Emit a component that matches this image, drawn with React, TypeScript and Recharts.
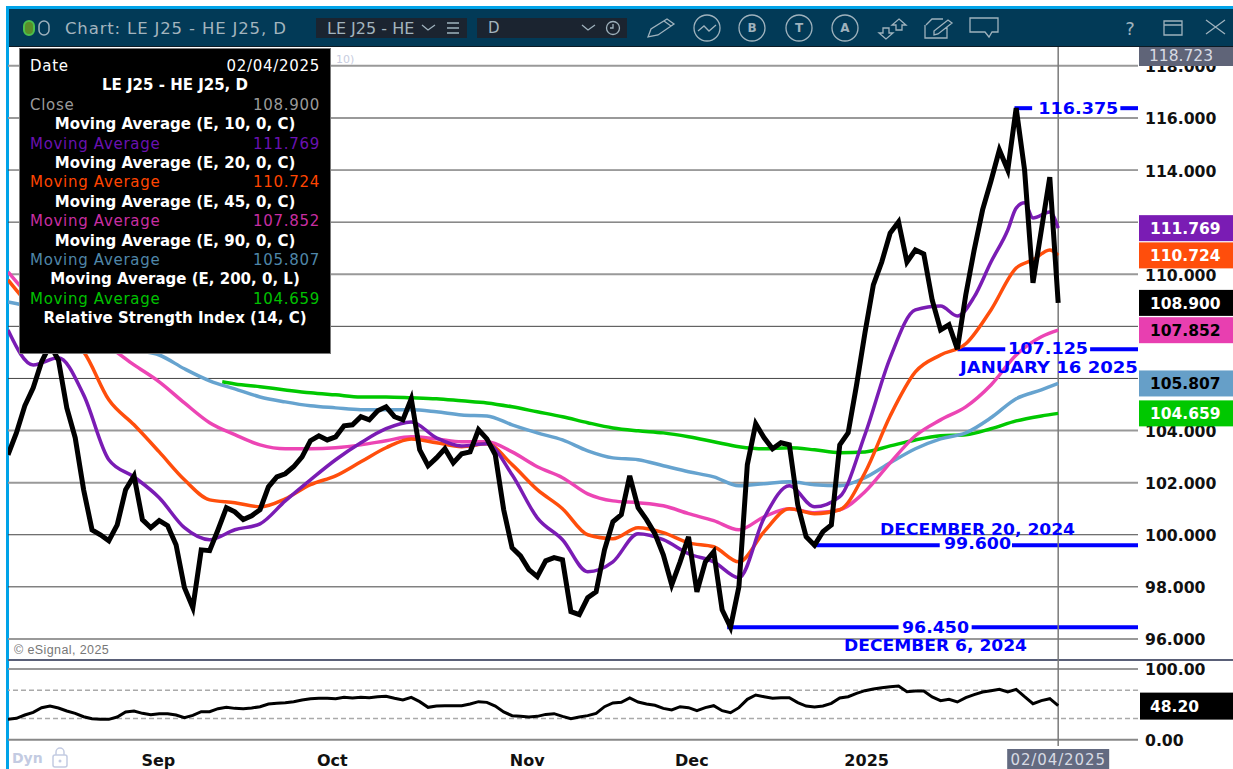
import React from "react";
import { ComposedChart, Line, XAxis, YAxis, ReferenceLine, ReferenceDot } from "recharts";

// spread close, one value per session
const closeValues = [
  103.07, 103.91, 104.95, 105.64, 106.64, 107.29, 106.71, 104.87, 103.72, 101.73,
  100.19, 100.0, 99.77, 100.38, 101.73, 102.26, 100.58, 100.27, 100.54, 100.35,
  99.62, 97.97, 97.2, 99.42, 99.39, 100.19, 101.04, 100.88, 100.58, 100.73,
  100.96, 101.84, 102.22, 102.34, 102.61, 102.99, 103.61, 103.8, 103.64, 103.76,
  104.18, 104.22, 104.53, 104.41, 104.76, 104.91, 104.53, 104.41, 105.22, 103.26,
  102.65, 102.95, 103.3, 102.76, 103.11, 103.18, 104.03, 103.68, 103.07, 100.96,
  99.5, 99.19, 98.66, 98.39, 99.0, 99.12, 99.04, 97.05, 96.93, 97.58,
  97.81, 99.42, 100.5, 100.77, 102.26, 101.04, 100.58, 100.04, 99.23, 98.08,
  98.96, 99.92, 97.81, 98.96, 99.35, 97.12, 96.45, 98.01, 102.69, 104.26,
  103.72, 103.3, 103.53, 103.45, 101.15, 99.92, 99.6, 100.12, 100.38, 103.45,
  103.91, 105.75, 107.75, 109.59, 110.47, 111.58, 112.01, 110.47, 110.93, 110.78,
  109.01, 107.86, 108.06, 107.125, 109.21, 110.93, 112.47, 113.58, 114.77, 114.0,
  116.375, 114.0, 109.67, 111.7, 113.73, 108.9,
];

const rsiValues = [
  28.8, 30.2, 34.9, 38.7, 45.3, 47.6, 44.8, 40.6, 37.3, 32.5,
  29.7, 28.8, 28.8, 32.1, 39.2, 40.6, 37.3, 35.4, 36.8, 36.8,
  34.9, 31.1, 34.4, 39.6, 39.6, 43.9, 45.8, 44.3, 43.9, 44.8,
  46.7, 50.5, 51.4, 52.4, 53.8, 56.1, 58.0, 58.5, 58.5, 58.0,
  59.9, 59.0, 59.9, 59.4, 60.8, 61.3, 58.5, 56.1, 59.9, 53.8,
  45.8, 47.6, 48.1, 48.1, 48.1, 50.5, 53.8, 52.8, 47.6, 39.2,
  34.0, 33.0, 32.1, 33.0, 35.8, 36.8, 33.0, 29.7, 32.1, 34.0,
  37.3, 46.7, 51.9, 52.8, 59.0, 53.3, 50.5, 48.6, 44.3, 42.0,
  46.7, 45.3, 41.0, 45.3, 48.1, 41.0, 38.2, 45.3, 57.1, 63.2,
  60.8, 58.5, 59.4, 59.4, 52.4, 47.6, 46.2, 47.6, 51.4, 59.0,
  60.8, 65.6, 69.3, 71.7, 73.6, 75.0, 75.9, 67.9, 68.9, 68.9,
  60.4, 55.2, 57.1, 53.3, 59.4, 63.7, 67.5, 69.3, 71.2, 67.5,
  71.2, 60.8, 50.9, 55.2, 58.0, 48.2,
];

// moving averages are read every third session
const maSessions = [
  0, 3, 6, 9, 12, 15, 18, 21, 24, 27, 30, 33, 36, 39, 42, 45, 48, 51, 54, 57, 60,
  63, 66, 69, 72, 75, 78, 81, 84, 87, 90, 93, 96, 99, 102, 105, 108, 111, 114, 117,
  120, 123, 125,
];
// the fast ones turn a lot at the end, so they get more readings there
const ema10Sessions = [
  0, 3, 6, 9, 12, 15, 18, 21, 24, 27, 30, 33, 36, 39, 42, 45, 48, 51, 54, 57, 60,
  63, 66, 69, 72, 75, 78, 81, 84, 87, 90, 93, 96, 99, 102, 105, 108, 111, 113, 115,
  117, 119, 120, 121, 122, 124, 125,
];
const ema10 = [
  107.86, 106.52, 106.79, 105.37, 102.88, 102.22, 101.42, 100.27, 99.81, 100.19,
  100.42, 101.3, 102.11, 102.88, 103.53, 104.07, 104.33, 103.72, 103.41, 103.49,
  102.3, 100.65, 99.81, 98.58, 98.96, 100.04, 99.81, 99.27, 98.96, 98.35,
  100.65, 101.88, 101.07, 101.46, 103.84, 106.79, 108.63, 108.78, 108.4, 109.13,
  110.47, 111.7, 112.54, 112.74, 112.16, 112.39, 111.769,
];
const ema20Sessions = [
  0, 3, 6, 9, 12, 15, 18, 21, 24, 27, 30, 33, 36, 39, 42, 45, 48, 51, 54, 57, 60,
  63, 66, 69, 72, 75, 78, 81, 84, 87, 90, 93, 96, 99, 102, 105, 108, 111, 114, 117,
  120, 122, 124, 125,
];
const ema20 = [
  109.78, 108.63, 107.67, 107.02, 105.18, 104.22, 103.18, 102.11, 101.34, 101.23,
  101.07, 101.38, 101.92, 102.26, 102.8, 103.34, 103.68, 103.53, 103.38, 103.49,
  102.69, 101.73, 101.0, 100.0, 99.85, 100.27, 100.08, 99.69, 99.54, 98.96,
  100.12, 101.0, 100.81, 100.96, 102.38, 104.56, 106.25, 106.9, 107.33, 108.63,
  110.24, 110.55, 110.93, 110.724,
];
const ema45 = [
  110.09, 109.01, 108.25, 107.67, 107.21, 106.52, 105.87, 105.06, 104.3, 103.84,
  103.45, 103.3, 103.3, 103.34, 103.45, 103.61, 103.76, 103.68, 103.57, 103.57,
  103.18, 102.61, 102.19, 101.57, 101.3, 101.23, 101.11, 100.81, 100.54, 100.19,
  100.69, 101.0, 100.84, 100.96, 101.65, 102.76, 103.8, 104.41, 104.91, 105.75,
  106.9, 107.6, 107.852,
];
const ema90 = [
  108.94, 108.71, 108.25, 107.79, 107.44, 107.1, 106.9, 106.37, 105.91, 105.6,
  105.29, 105.1, 104.95, 104.87, 104.8, 104.8, 104.8, 104.72, 104.6, 104.56,
  104.22, 103.91, 103.64, 103.22, 102.95, 102.88, 102.65, 102.42, 102.22, 101.88,
  101.96, 102.03, 101.92, 101.88, 102.19, 102.76, 103.3, 103.68, 103.91, 104.49,
  105.22, 105.56, 105.807,
];
// the 200 line only starts in late August
const ema200Sessions = [
  25.5, 27, 30, 33, 36, 39, 42, 45, 48, 51, 54, 57, 60, 63, 66, 69, 72, 75, 78, 81,
  84, 87, 90, 93, 96, 99, 102, 105, 108, 111, 114, 117, 120, 123, 125,
];
const ema200 = [
  105.87, 105.79, 105.68, 105.56, 105.45, 105.37, 105.29, 105.29, 105.26, 105.22,
  105.14, 105.06, 104.91, 104.72, 104.53, 104.3, 104.1, 103.99, 103.91, 103.76,
  103.57, 103.38, 103.3, 103.34, 103.26, 103.15, 103.18, 103.41, 103.64, 103.8,
  103.84, 104.07, 104.37, 104.56, 104.659,
];

const gridLevels = [96, 98, 100, 102, 104, 106, 108, 110, 112, 114, 116, 118];
const lightGrid = [96, 102, 104, 110, 116, 118];
// 106, 108 and 112 sit fully behind the value tags
const priceLabels = [96, 98, 100, 102, 104, 110, 114, 116, 118];
const tagValues = [111.769, 110.724, 108.9, 107.852, 105.807, 104.659];
const tagColors = ["#7a1cb4", "#ff4e0c", "#000000", "#e83fb0", "#669fc8", "#00c800"];
const tagText = ["#ffffff", "#ffffff", "#ffffff", "#000000", "#000000", "#ffffff"];

const monthSessions = [17.9, 38.6, 61.8, 81.4, 102.2, 125];
const monthLabels = ["Sep", "Oct", "Nov", "Dec", "2025", "02/04/2025"];

const closeData = closeValues.map((close, session) => ({ session, close }));
const rsiData = rsiValues.map((rsi, session) => ({ session, rsi }));
const series = (sessions: number[], values: number[]) =>
  sessions.map((session, i) => ({ session, value: values[i] }));

// left and right piece of every blue level, the label sits in the gap
const levelLines = [
  { y: 116.375, from: 119.8, to: 121.9 },
  { y: 116.375, from: 132.4, to: 134.5 },
  { y: 107.125, from: 113, to: 118.7 },
  { y: 107.125, from: 128.8, to: 134.5 },
  { y: 99.6, from: 95.8, to: 110.9 },
  { y: 99.6, from: 119.5, to: 134.5 },
  { y: 96.45, from: 85.6, to: 106 },
  { y: 96.45, from: 114.7, to: 134.5 },
];
const levelLabels = [
  { text: "116.375", x: 127.4, y: 116.4, len: 80 },
  { text: "107.125", x: 123.8, y: 107.15, len: 80 },
  { text: "JANUARY 16 2025", x: 123.9, y: 106.43, len: 178 },
  { text: "99.600", x: 115.4, y: 99.68, len: 67 },
  { text: "DECEMBER 20, 2024", x: 115.4, y: 100.23, len: 195 },
  { text: "96.450", x: 110.4, y: 96.44, len: 67 },
  { text: "DECEMBER 6, 2024", x: 110.4, y: 95.76, len: 183 },
];

const tooltipRows = [
  { left: "Date", right: "02/04/2025", color: "#ffffff" },
  { title: "LE J25 - HE J25, D" },
  { left: "Close", right: "108.900", color: "#9a9a9a" },
  { title: "Moving Average (E, 10, 0, C)" },
  { left: "Moving Average", right: "111.769", color: "#6a12b0" },
  { title: "Moving Average (E, 20, 0, C)" },
  { left: "Moving Average", right: "110.724", color: "#ff4500" },
  { title: "Moving Average (E, 45, 0, C)" },
  { left: "Moving Average", right: "107.852", color: "#c82ea2" },
  { title: "Moving Average (E, 90, 0, C)" },
  { left: "Moving Average", right: "105.807", color: "#4f86a8" },
  { title: "Moving Average (E, 200, 0, L)" },
  { left: "Moving Average", right: "104.659", color: "#00c000" },
  { title: "Relative Strength Index (14, C)" },
];

const FONT = "'DejaVu Sans', Verdana, sans-serif";
const ICON = "#9fb2bd";

function PriceTick({ x, y, payload }: any) {
  const i = tagValues.indexOf(payload.value);
  if (i >= 0) {
    return (
      <g>
        <rect x={x + 1} y={y - 13} width={95} height={26} fill={tagColors[i]} />
        <text x={x + 12} y={y + 1} dominantBaseline="central" fontFamily={FONT} fontWeight="bold" fontSize={15.5} fill={tagText[i]}>
          {payload.value.toFixed(3)}
        </text>
      </g>
    );
  }
  return (
    <text x={x + 7} y={y + 1} dominantBaseline="central" fontFamily={FONT} fontWeight="bold" fontSize={15.7} fill="#111">
      {payload.value.toFixed(3)}
    </text>
  );
}

function RsiTick({ x, y, payload }: any) {
  if (payload.value === 48.2) {
    return (
      <g>
        <rect x={x + 2} y={y - 13} width={95} height={27} fill="#000" />
        <text x={x + 12} y={y + 1} dominantBaseline="central" fontFamily={FONT} fontWeight="bold" fontSize={15.5} fill="#fff">
          48.20
        </text>
      </g>
    );
  }
  return (
    <text x={x + 7} y={y + 1} dominantBaseline="central" fontFamily={FONT} fontWeight="bold" fontSize={15.7} fill="#111">
      {payload.value.toFixed(2)}
    </text>
  );
}

function MonthTick({ x, y, payload }: any) {
  const label = monthLabels[monthSessions.indexOf(payload.value)];
  if (payload.value === 125) {
    return (
      <g>
        <rect x={x - 51} y={y + 3} width={102} height={20} fill="#636a80" />
        <text x={x} y={y + 14} textAnchor="middle" dominantBaseline="central" fontFamily={FONT} fontSize={15} letterSpacing={0.9} fill="#d8dbe4">
          {label}
        </text>
      </g>
    );
  }
  return (
    <text x={x} y={y + 14} textAnchor="middle" dominantBaseline="central" fontFamily={FONT} fontWeight="bold" fontSize={16} fill="#111">
      {label}
    </text>
  );
}

function LevelText({ cx, cy, text, len }: any) {
  return (
    <text
      x={cx}
      y={cy + 1}
      textAnchor="middle"
      dominantBaseline="central"
      fontFamily={FONT}
      fontWeight="bold"
      fontSize={15}
      fill="#0000ff"
      textLength={len}
      lengthAdjust="spacingAndGlyphs"
    >
      {text}
    </text>
  );
}

function Header() {
  const stroke = { fill: "none", stroke: ICON, strokeWidth: 1.3 };
  const circle = (cx: number, letter: string) => (
    <g>
      <circle cx={cx} cy={28} r={13} {...stroke} />
      <text x={cx} y={28} textAnchor="middle" dominantBaseline="central" fontFamily={FONT} fontWeight="bold" fontSize={12} fill={ICON}>
        {letter}
      </text>
    </g>
  );
  return (
    <svg width={1233} height={47} style={{ position: "absolute", left: 0, top: 0 }}>
      <rect x={6} y={6} width={1227} height={41} fill="#00a3e8" />
      <rect x={9} y={9} width={1224} height={37} fill="#023a57" />
      <rect x={9} y={46} width={1224} height={1} fill="#0c1a24" />
      <rect x={24} y={21} width={10} height={14} rx={5} fill="#5a8f2a" stroke="#4cc04c" strokeWidth={2} />
      <rect x={39} y={21} width={10} height={14} rx={5} fill="none" stroke={ICON} strokeWidth={1.5} />
      <text x={65} y={28} dominantBaseline="central" fontFamily={FONT} fontSize={16.5} letterSpacing={0.85} fill="#a3b4be">
        Chart: LE J25 - HE J25, D
      </text>
      <rect x={316} y={18} width={151} height={20} fill="#1b2430" />
      <text x={327} y={28} dominantBaseline="central" fontFamily={FONT} fontSize={16} fill="#a3b4be">
        LE J25 - HE
      </text>
      <path d="M422 25 L428 30 L435 25" {...stroke} />
      <path d="M447 23 H459 M447 28 H459 M447 33 H459" {...stroke} />
      <rect x={477} y={18} width={150} height={20} fill="#1b2430" />
      <text x={488} y={28} dominantBaseline="central" fontFamily={FONT} fontSize={15} fill="#a3b4be">
        D
      </text>
      <path d="M582 25 L588 30 L595 25" {...stroke} />
      <circle cx={613} cy={28} r={6.5} {...stroke} />
      <path d="M613 24 V28 H610" {...stroke} />
      <path d="M648 37 L651 29 L667 19 L674 24 L658 35 Z M664 21 L671 26" {...stroke} />
      <circle cx={707} cy={28} r={13} {...stroke} />
      <path d="M698 31 L704 26 L709 31 L716 25" {...stroke} />
      {circle(752, "B")}
      {circle(799, "T")}
      {circle(845, "A")}
      <path d="M899 19 L906 25 H902 V30 H896 V25 H892 Z M886 39 L879 33 H883 V28 H889 V33 H893 Z" {...stroke} />
      <path d="M926 25 L932 19 H943 M947 27 V38 H925 V25 M934 31 L948 20 L952 23 L938 34 L934 35 Z" {...stroke} />
      <path d="M970 18 H998 V32 H992 L989 37 L985 32 H970 Z" {...stroke} />
      <text x={1130} y={28} textAnchor="middle" dominantBaseline="central" fontFamily={FONT} fontSize={18} fill={ICON}>
        ?
      </text>
      <path d="M1164 21 H1182 V35 H1164 Z M1164 25 H1182" {...stroke} />
      <path d="M1206 20 L1225 34 M1225 20 L1206 34" {...stroke} />
    </svg>
  );
}

export default function App() {
  return (
    <div style={{ position: "absolute", left: 0, top: 0, width: 1233, height: 769, background: "#fff", overflow: "hidden" }}>
      <div style={{ position: "absolute", left: 6, top: 6, width: 3, height: 763, background: "#00a3e8" }} />

      <div style={{ position: "absolute", left: 0, top: 47 }}>
        <ComposedChart width={1233} height={612} margin={{ top: 0, right: 0, bottom: 0, left: 8 }}>
          <XAxis dataKey="session" type="number" domain={[0, 134.5]} hide allowDataOverflow />
          <YAxis
            orientation="right"
            width={95}
            domain={[95.23, 118.723]}
            allowDataOverflow
            ticks={[...priceLabels, ...tagValues]}
            interval={0}
            tick={<PriceTick />}
            tickLine={false}
            tickSize={0}
            tickMargin={0}
            axisLine={false}
          />
          {gridLevels.map((v) => (
            <ReferenceLine
              key={v}
              y={v}
              stroke={lightGrid.includes(v) ? "#999" : "#444"}
              strokeWidth={lightGrid.includes(v) ? 2 : 1}
            />
          ))}
          {levelLines.map((l, i) => (
            <ReferenceLine
              key={i}
              segment={[
                { x: l.from, y: l.y },
                { x: l.to, y: l.y },
              ]}
              stroke="#0000ff"
              strokeWidth={4}
            />
          ))}
          <ReferenceLine x={125} stroke="#7a7a7a" strokeWidth={1.5} />
          <Line data={series(ema200Sessions, ema200)} dataKey="value" type="monotone" stroke="#00c800" strokeWidth={3.5} dot={false} isAnimationActive={false} />
          <Line data={series(maSessions, ema90)} dataKey="value" type="monotone" stroke="#66a3cf" strokeWidth={3.5} dot={false} isAnimationActive={false} />
          <Line data={series(maSessions, ema45)} dataKey="value" type="monotone" stroke="#ec45b4" strokeWidth={3.5} dot={false} isAnimationActive={false} />
          <Line data={series(ema20Sessions, ema20)} dataKey="value" type="monotone" stroke="#ff4e0c" strokeWidth={3.5} dot={false} isAnimationActive={false} />
          <Line data={series(ema10Sessions, ema10)} dataKey="value" type="monotone" stroke="#7a1cb4" strokeWidth={3.5} dot={false} isAnimationActive={false} />
          <Line data={closeData} dataKey="close" type="linear" stroke="#000" strokeWidth={5} dot={false} isAnimationActive={false} />
          {levelLabels.map((l) => (
            <ReferenceDot key={l.text} x={l.x} y={l.y} r={0} shape={(p: any) => <LevelText {...p} text={l.text} len={l.len} />} />
          ))}
        </ComposedChart>
      </div>

      <div style={{ position: "absolute", left: 8, top: 659, width: 1225, height: 2, background: "#5a6078" }} />

      <div style={{ position: "absolute", left: 0, top: 659 }}>
        <ComposedChart width={1233} height={110} data={rsiData} margin={{ top: 0, right: 0, bottom: 0, left: 8 }}>
          <XAxis
            dataKey="session"
            type="number"
            domain={[0, 134.5]}
            allowDataOverflow
            height={23}
            ticks={monthSessions}
            interval={0}
            tick={<MonthTick />}
            tickLine={false}
            tickSize={0}
            tickMargin={0}
            axisLine={false}
          />
          <YAxis
            orientation="right"
            width={95}
            domain={[-8.9, 114.1]}
            allowDataOverflow
            ticks={[0, 100, 48.2]}
            interval={0}
            tick={<RsiTick />}
            tickLine={false}
            tickSize={0}
            tickMargin={0}
            axisLine={false}
          />
          <ReferenceLine y={100} stroke="#999" strokeWidth={2} />
          <ReferenceLine y={0} stroke="#888" strokeWidth={2} />
          <ReferenceLine y={70} stroke="#aaa" strokeWidth={1.5} strokeDasharray="5 3" />
          <ReferenceLine y={30} stroke="#aaa" strokeWidth={1.5} strokeDasharray="5 3" />
          <ReferenceLine x={125} stroke="#7a7a7a" strokeWidth={1.5} />
          <Line dataKey="rsi" type="linear" stroke="#000" strokeWidth={3} dot={false} isAnimationActive={false} />
        </ComposedChart>
      </div>

      <div style={{ position: "absolute", left: 14, top: 643, font: "12.5px 'Liberation Sans', sans-serif", color: "#777", letterSpacing: 0.4 }}>
        © eSignal, 2025
      </div>
      <div style={{ position: "absolute", left: 12, top: 750, font: "bold 14px " + FONT, color: "#c3cbe2" }}>Dyn</div>
      <svg width={20} height={22} style={{ position: "absolute", left: 50, top: 747 }}>
        <rect x={3} y={8} width={14} height={12} rx={2} fill="none" stroke="#c3cbe2" strokeWidth={1.5} />
        <path d="M6 8 V5 A4 4 0 0 1 14 5 V8" fill="none" stroke="#c3cbe2" strokeWidth={1.5} />
        <circle cx={10} cy={14} r={1.5} fill="#c3cbe2" />
      </svg>
      <div style={{ position: "absolute", left: 336, top: 53, font: "11px " + FONT, color: "#c8cde0" }}>10)</div>

      <div style={{ position: "absolute", left: 1139, top: 47, width: 94, height: 19, background: "#5f6478", color: "#d8dbe4", font: "15.5px/19px " + FONT, paddingLeft: 10, boxSizing: "border-box" }}>
        118.723
      </div>

      <div style={{ position: "absolute", left: 19, top: 48, width: 312, height: 306, boxSizing: "border-box", background: "#000", border: "1px solid #777", padding: "8px 10px 0 10px", font: "15px/19.4px " + FONT }}>
        {tooltipRows.map((r, i) =>
          r.title ? (
            <div key={i} style={{ textAlign: "center", fontWeight: "bold", color: "#fff", fontSize: 15 }}>
              {r.title}
            </div>
          ) : (
            <div key={i} style={{ display: "flex", justifyContent: "space-between", color: r.color, letterSpacing: 0.7 }}>
              <span>{r.left}</span>
              <span>{r.right}</span>
            </div>
          )
        )}
      </div>

      <Header />
    </div>
  );
}
